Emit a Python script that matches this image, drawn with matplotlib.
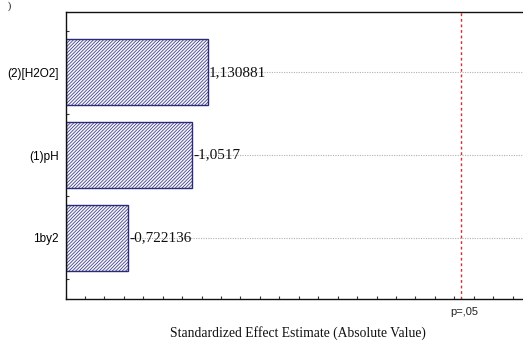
import numpy as np
import matplotlib
matplotlib.use("Agg")
from matplotlib import pyplot as plt
from matplotlib.ticker import MultipleLocator

# Pareto chart of standardized effects
factors = ["1by2", "(1)pH", "(2)[H2O2]"]
effects = [0.722136, 1.0517, 1.130881]
effect_labels = ["-0,722136", "-1,0517", "1,130881"]
p_crit = 2.4347
p_label = "p=,05"

plt.rcParams["hatch.linewidth"] = 0.5
plt.rcParams["hatch.color"] = "#33337a"

fig = plt.figure(figsize=(5.23, 3.40), dpi=100)
ax = fig.add_axes([65.5 / 523, 1 - 299 / 340, 1 - 65.5 / 523 + 0.002, (299 - 12) / 340])

y = np.arange(len(factors))
x0 = 0.4

# dotted guide lines behind the bars
for yi in y:
    ax.axhline(yi, color="#b0b0b0", lw=0.8, ls=(0, (1, 1.2)), zorder=0)

ax.barh(y, np.array(effects) - x0, left=x0, height=0.8,
        color="#f4f4fa", edgecolor="#2a2a78", hatch="//////////", lw=1.0, zorder=2)

for yi, v, lab in zip(y, effects, effect_labels):
    ax.text(v + 0.008, yi, lab, ha="left", va="center",
            fontsize=11, family="Liberation Serif", color="#111111", zorder=3)

ax.axvline(p_crit, color="#d03030", lw=1.0, ls=(0, (2, 2)), zorder=1)

ax.set_xlim(x0, x0 + (523 - 65.5) / 194)
ax.set_ylim(-0.74, 2.73)

ax.set_yticks(y)
ax.set_yticklabels(factors, fontsize=8.5, family="Liberation Sans")
ax.yaxis.set_minor_locator(MultipleLocator(0.5))
ax.xaxis.set_major_locator(MultipleLocator(0.1))
ax.set_xticklabels([])
ax.tick_params(axis="both", which="both", direction="in", length=2.5, width=0.8, color="#333333")
ax.tick_params(axis="y", which="major", pad=5)

ax.spines["right"].set_visible(False)
for s in ["left", "bottom", "top"]:
    ax.spines[s].set_linewidth(1.0)
    ax.spines[s].set_color("#111111")

ax.text(p_crit + 0.015, -0.9, p_label, ha="center", va="center",
        fontsize=8, family="Liberation Sans", color="#222222")

fig.text(298 / 523, 1 - 333 / 340, "Standardized Effect Estimate (Absolute Value)",
         ha="center", va="center", fontsize=9.8, family="Liberation Serif", color="#111111")

fig.text(8 / 523, 1 - 1 / 340, ")", ha="left", va="top", fontsize=7, family="Liberation Serif")

fig.savefig("out.png", dpi=100)
